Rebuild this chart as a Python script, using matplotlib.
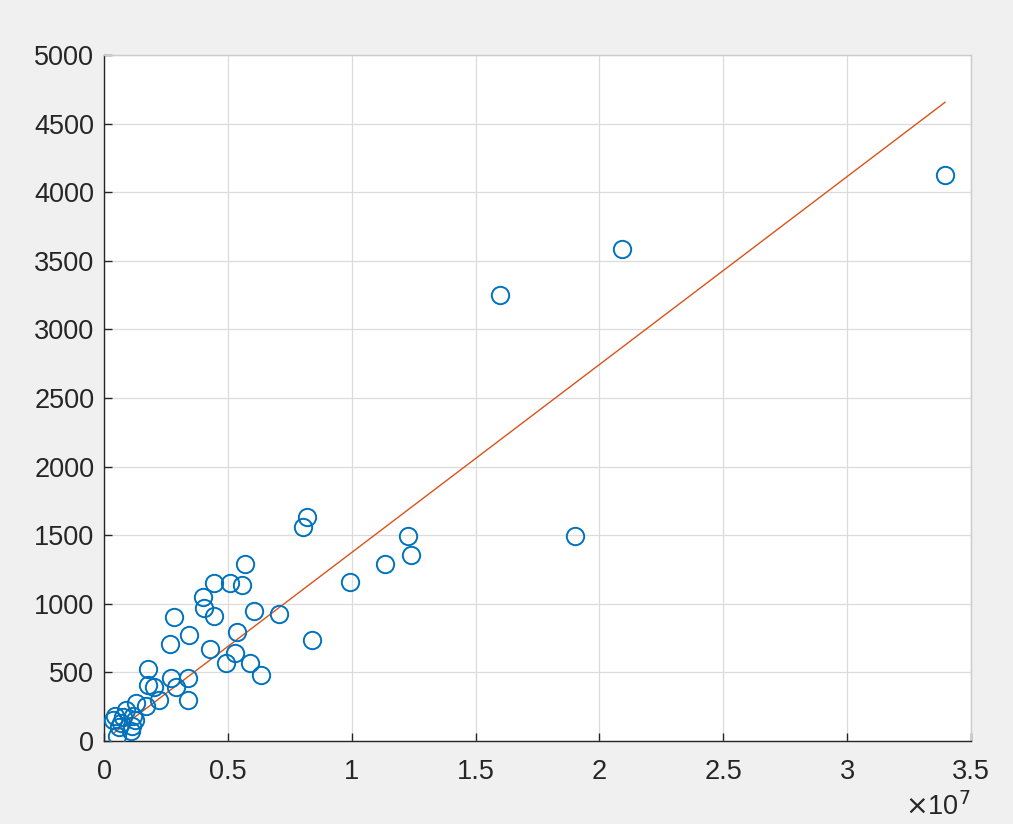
import numpy as np
import matplotlib
matplotlib.use("Agg")
import matplotlib.pyplot as plt
from matplotlib.ticker import FuncFormatter

# scatter data (x in raw units, shown as x10^7)
x_vals = np.array([
    3.395e7, 2.09e7, 1.60e7, 1.90e7, 1.229e7, 1.241e7, 1.136e7, 0.994e7,
    0.821e7, 0.804e7, 0.841e7, 0.707e7, 0.570e7, 0.558e7, 0.509e7, 0.445e7,
    0.400e7, 0.404e7, 0.445e7, 0.606e7, 0.283e7, 0.267e7, 0.344e7, 0.538e7,
    0.428e7, 0.530e7, 0.493e7, 0.590e7, 0.635e7, 0.178e7, 0.271e7, 0.178e7,
    0.202e7, 0.340e7, 0.291e7, 0.340e7, 0.222e7, 0.170e7,
    0.128e7, 0.089e7, 0.044e7, 0.078e7, 0.118e7, 0.125e7, 0.067e7, 0.112e7,
    0.061e7, 0.108e7, 0.054e7, 0.038e7,
])
y_vals = np.array([
    4124, 3584, 3248, 1496, 1496, 1358, 1292, 1161,
    1635, 1562, 737, 927, 1292, 1139, 1153, 1153,
    1051, 971, 912, 949, 905, 708, 774, 796,
    672, 642, 569, 569, 482, 526, 460, 409,
    394, 460, 394, 299, 299, 255,
    275, 226, 182, 173, 182, 153, 129, 109,
    100, 75, 36, 153,
])

# fitted line: y = slope * x + intercept
fit_slope = 1.37e-4
fit_intercept = 4.0

x_ticks = [0, 0.5e7, 1e7, 1.5e7, 2e7, 2.5e7, 3e7, 3.5e7]
y_ticks = [0, 500, 1000, 1500, 2000, 2500, 3000, 3500, 4000, 4500, 5000]

plt.rcParams['font.family'] = ['Liberation Sans', 'DejaVu Sans']

fig = plt.figure(figsize=(10.13, 8.24), dpi=100, facecolor='#f0f0f0')
ax = fig.add_axes([104 / 1013, 1 - 741 / 824, (971 - 104) / 1013, (741 - 55) / 824])
ax.set_facecolor('white')

ax.plot(x_vals, y_vals, 'o', mfc='none', mec='#0072BD', ms=12.5, mew=1.4,
        zorder=3)
xl = np.array([x_vals.min(), x_vals.max()])
ax.plot(xl, fit_slope * xl + fit_intercept, color='#D95319', lw=1.0, zorder=2)

ax.set_xlim(0, 3.5e7)
ax.set_ylim(0, 5000)
ax.set_xticks(x_ticks)
ax.set_yticks(y_ticks)
ax.xaxis.set_major_formatter(FuncFormatter(lambda v, p: f"{v / 1e7:g}"))

ax.grid(True, color='#dcdcdc', lw=0.9)
ax.set_axisbelow(True)
ax.tick_params(direction='in', length=6, width=1, colors='#262626',
               labelsize=19.5)
ax.tick_params(axis='y', pad=7)
ax.tick_params(axis='x', pad=13)
for s in ['left', 'bottom']:
    ax.spines[s].set_color('#262626')
    ax.spines[s].set_linewidth(1.0)
for s in ['top', 'right']:
    ax.spines[s].set_color('#cccccc')
    ax.spines[s].set_linewidth(1.0)

ax.text(1.0, -0.075, r'$\times$10$^{7}$', transform=ax.transAxes, ha='right',
        va='top', fontsize=19.5, color='#262626')

fig.savefig('out.png', dpi=100, facecolor=fig.get_facecolor())
